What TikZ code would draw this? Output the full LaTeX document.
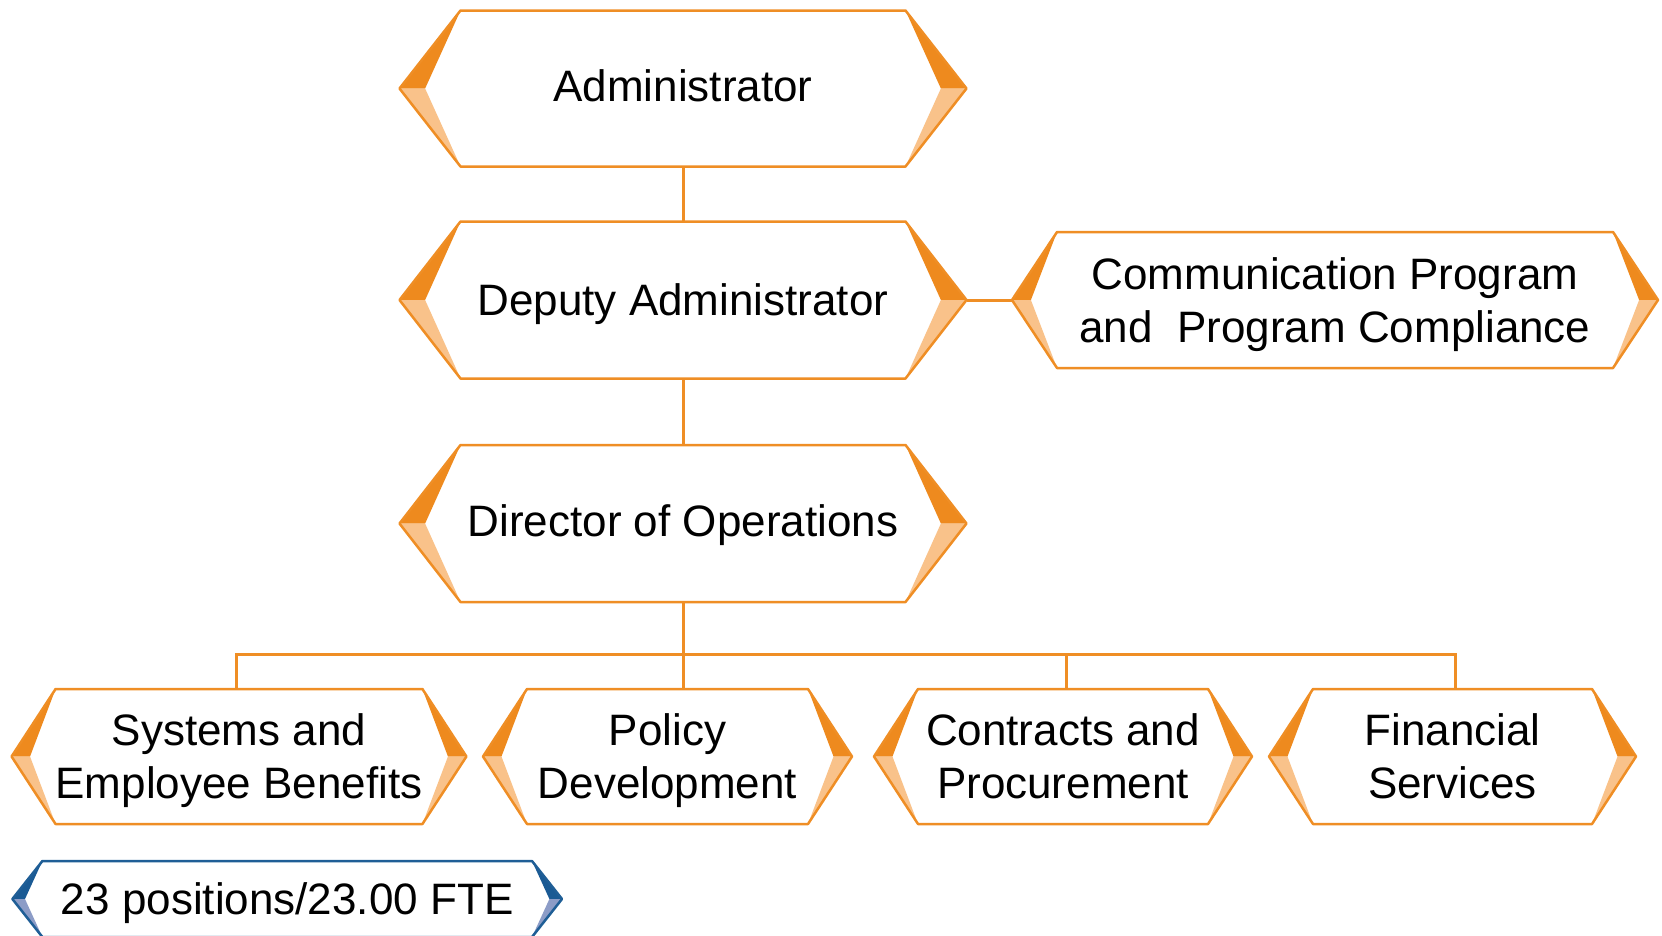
\documentclass[tikz,border=0pt]{standalone}
\usepackage{fontspec}
\setmainfont{Liberation Sans}
\pgfdeclarelayer{background}
\pgfsetlayers{background,main}
\definecolor{org}{HTML}{EF8E25}
\definecolor{orgdark}{HTML}{EE8A1E}
\definecolor{orglight}{HTML}{F9C28A}
\definecolor{blu}{HTML}{1F5E96}
\definecolor{bludark}{HTML}{1A5A94}
\definecolor{blulight}{HTML}{8C9CC7}
\tikzset{
  boxtext/.style={draw=none, inner sep=0pt, outer sep=0pt, align=center,
    font=\fontsize{44}{53}\selectfont, text=black, text depth=0pt},
  conn/.style={draw=org, line width=3pt}
}
% #1 name, #2 x, #3 y, #4 half inner width, #5 half height, #6 tip, #7 colour prefix, #8 extra options, #9 text
\newcommand\hexbox[9]{%
  \node[boxtext, minimum width={2*#4pt}, minimum height={2*#5pt}, #8] (#1) at (#2,#3) {#9};
  \coordinate (#1-L) at ([xshift={-#6pt}]#1.west);
  \coordinate (#1-R) at ([xshift={#6pt}]#1.east);
  \coordinate (#1-Li) at ([xshift={-0.58*#6pt}]#1.west);
  \coordinate (#1-Ri) at ([xshift={0.58*#6pt}]#1.east);
  \begin{pgfonlayer}{background}
    \fill[white] (#1.north west) -- (#1-Li) -- (#1.south west) -- (#1.south east) -- (#1-Ri) -- (#1.north east) -- cycle;
    \fill[#7dark] (#1.north west) -- (#1-L) -- (#1-Li) -- cycle;
    \fill[#7light] (#1-L) -- (#1-Li) -- (#1.south west) -- cycle;
    \fill[#7dark] (#1.north east) -- (#1-R) -- (#1-Ri) -- cycle;
    \fill[#7light] (#1-R) -- (#1-Ri) -- (#1.south east) -- cycle;
    \draw[draw=#7, line width=2.5pt, line join=round] (#1.north west) -- (#1-L) -- (#1.south west) -- (#1.south east) -- (#1-R) -- (#1.north east) -- cycle;
  \end{pgfonlayer}}
\begin{document}
\begin{tikzpicture}[x=1pt, y=-1pt]
  \useasboundingbox (0,0) rectangle (1662,935);
  \hexbox{adm}{683}{88.5}{222.5}{78}{61}{org}{text height=26pt}{Administrator}
  \hexbox{dep}{683}{300}{222.5}{78.5}{61}{org}{}{Deputy Administrator}
  \hexbox{dir}{683}{523.5}{222.5}{78.5}{61}{org}{text height=26pt}{Director of Operations}
  \hexbox{com}{1335}{300}{278}{68}{45}{org}{text depth=-4pt}{Communication Program\\and\ \ Program Compliance}
  \hexbox{sys}{239}{756.5}{183}{67.5}{44}{org}{}{Systems and\\Employee Benefits}
  \hexbox{pol}{667.5}{756.5}{140.5}{67.5}{44}{org}{}{Policy\\Development}
  \hexbox{con}{1063}{756.5}{145}{67.5}{44}{org}{}{Contracts and\\Procurement}
  \hexbox{fin}{1452.5}{756.5}{139.5}{67.5}{44}{org}{}{Financial\\Services}
  \hexbox{fte}{287.2}{899}{244.8}{38}{30}{blu}{}{23 positions/23.00 FTE}
  \coordinate (bus) at (683,654);
  \coordinate (sysdrop) at ([xshift=-3pt]sys.north);
  \coordinate (condrop) at ([xshift=3pt]con.north);
  \coordinate (findrop) at ([xshift=3pt]fin.north);
  \draw[conn] (adm.south) -- (dep.north);
  \draw[conn] (dep.south) -- (dir.north);
  \draw[conn] (dep-R) -- (com-L);
  \draw[conn] (dir.south) -- (dir.south |- pol.north);
  \draw[conn] (sysdrop) -- (sysdrop |- bus) -- (findrop |- bus) -- (findrop);
  \draw[conn] (condrop) -- (condrop |- bus);
\end{tikzpicture}
\end{document}
